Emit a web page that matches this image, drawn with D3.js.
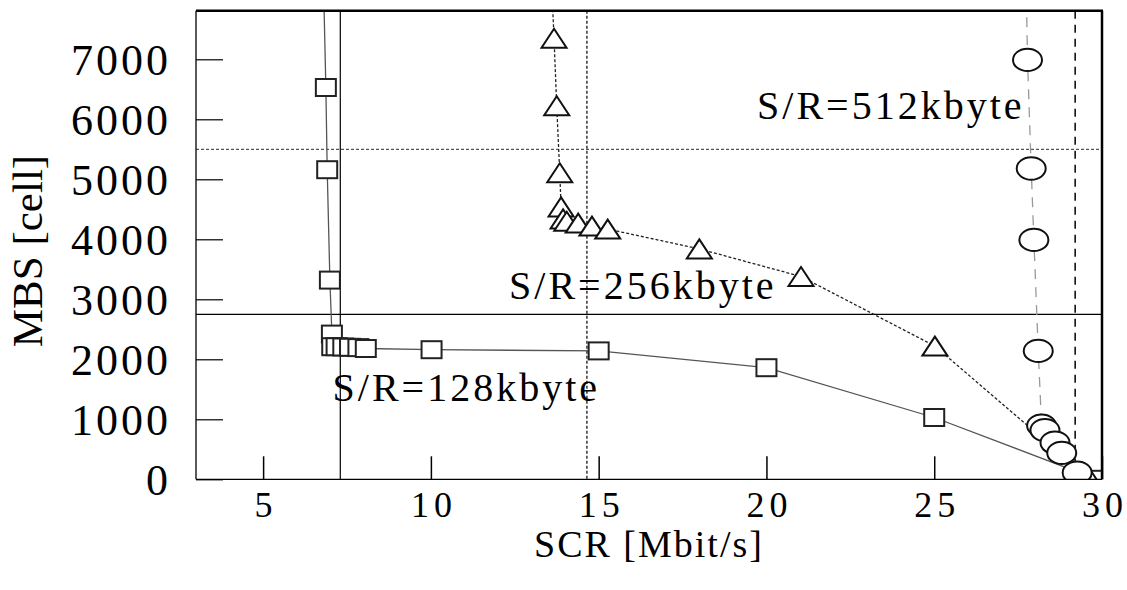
<!DOCTYPE html>
<html>
<head>
<meta charset="utf-8">
<script src="https://cdn.jsdelivr.net/npm/d3@7"></script>
<style>
  body { margin: 0; background: #fff; }
  text { font-family: "Liberation Serif", "Times New Roman", serif; fill: #000; }
</style>
</head>
<body>
<div class="chart"></div>
<script>
(function(){

  // S/R = 128 kbyte (squares)
  var sq128X = [6.73, 6.87, 6.91, 6.99, 7.05, 7.06, 7.19, 7.39, 7.59, 7.84, 8.06, 10.02, 15.0, 20.0, 25.0, 29.85];
  var sq128Y = [10000, 6530, 5160, 3320, 2420, 2210, 2210, 2205, 2200, 2195, 2180, 2160, 2140, 1860, 1030, 0];

  // S/R = 256 kbyte (triangles)
  var tri256X = [13.5, 13.67, 13.75, 13.84, 13.88, 13.94, 14.05, 14.39, 14.8, 15.27, 18.0, 21.03, 25.02, 29.65];
  var tri256Y = [9500, 7350, 6225, 5110, 4540, 4340, 4300, 4270, 4220, 4170, 3840, 3380, 2220, 0];

  // S/R = 512 kbyte (circles)
  var cir512X = [27.7, 27.78, 27.89, 27.97, 28.1, 28.2, 28.3, 28.6, 28.8, 29.26];
  var cir512Y = [9500, 6990, 5180, 3990, 2140, 895, 820, 610, 440, 110];

  var xTicks = [5, 10, 15, 20, 25, 30];
  var yTicks = [0, 1000, 2000, 3000, 4000, 5000, 6000, 7000];

  // reference lines
  var vLines = [7.3, 14.65, 29.2];
  var hLines = [2750, 5500];

  var labels = [
    {text: 'S/R=512kbyte', x: 19.72, y: 6013},
    {text: 'S/R=256kbyte', x: 12.33, y: 3000},
    {text: 'S/R=128kbyte', x: 7.07, y: 1310}
  ];

  var W = 1127, H = 590;
  var left = 196, right = 1102, top = 10.7, bottom = 479.3;

  var x = d3.scaleLinear().domain([3, 30]).range([left, right]);
  var y = d3.scaleLinear().domain([0, 7810]).range([bottom, top]);

  var svg = d3.select('.chart')
    .append('svg')
    .attr('width', W)
    .attr('height', H);

  svg.append('clipPath').attr('id', 'plot-clip')
    .append('rect')
    .attr('x', left).attr('y', top)
    .attr('width', right - left).attr('height', bottom - top);

  // axes
  var yAxis = d3.axisLeft(y).tickValues(yTicks).tickFormat(d3.format('d'))
    .tickSize(-27).tickPadding(28);
  var gy = svg.append('g')
    .attr('transform', 'translate(' + left + ',0)')
    .call(yAxis);
  gy.select('.domain').remove();
  gy.selectAll('.tick line').attr('stroke', '#000').attr('stroke-width', 1.2);
  gy.selectAll('.tick text')
    .attr('font-size', 44)
    .attr('letter-spacing', '3px')
    .attr('dx', 3)
    .attr('dy', '0.35em');

  var xAxis = d3.axisBottom(x).tickValues(xTicks).tickSize(-23).tickPadding(12);
  var gx = svg.append('g')
    .attr('transform', 'translate(0,' + bottom + ')')
    .call(xAxis);
  gx.select('.domain').remove();
  gx.selectAll('.tick line').attr('stroke', '#000').attr('stroke-width', 1.5);
  gx.selectAll('.tick text')
    .attr('font-size', 36)
    .attr('letter-spacing', '5px')
    .attr('dx', 2.5);

  // axis titles
  svg.append('text')
    .attr('x', (left + right) / 2)
    .attr('y', 557)
    .attr('text-anchor', 'middle')
    .attr('font-size', 38)
    .attr('letter-spacing', '2px')
    .text('SCR [Mbit/s]');

  svg.append('text')
    .attr('transform', 'translate(42,251) rotate(-90)')
    .attr('text-anchor', 'middle')
    .attr('font-size', 43)
    .text('MBS [cell]');

  var plot = svg.append('g').attr('clip-path', 'url(#plot-clip)');

  // reference lines
  var vStyle = [
    {dash: null, w: 1.2},
    {dash: '3,2', w: 1.2},
    {dash: '8,6', w: 1.5}
  ];
  plot.selectAll('.vline').data(vLines).enter().append('line')
    .attr('class', 'vline')
    .attr('x1', function(d){ return x(d); })
    .attr('x2', function(d){ return x(d); })
    .attr('y1', top).attr('y2', bottom)
    .attr('stroke', '#000')
    .attr('stroke-width', function(d, i){ return vStyle[i].w; })
    .attr('stroke-dasharray', function(d, i){ return vStyle[i].dash; });

  plot.selectAll('.hline').data(hLines).enter().append('line')
    .attr('class', 'hline')
    .attr('x1', left).attr('x2', right)
    .attr('y1', function(d){ return y(d); })
    .attr('y2', function(d){ return y(d); })
    .attr('stroke', function(d, i){ return i === 0 ? '#000' : '#555'; })
    .attr('stroke-width', 1.2)
    .attr('stroke-dasharray', function(d, i){ return i === 0 ? null : '3,2'; });

  var zip = function(xs, ys){
    return xs.map(function(v, i){ return [v, ys[i]]; });
  };
  var sq = zip(sq128X, sq128Y),
    tri = zip(tri256X, tri256Y),
    cir = zip(cir512X, cir512Y);

  var line = d3.line()
    .x(function(d){ return x(d[0]); })
    .y(function(d){ return y(d[1]); });

  plot.append('path').datum(sq)
    .attr('d', line)
    .attr('fill', 'none')
    .attr('stroke', '#555')
    .attr('stroke-width', 1.3);

  plot.append('path').datum(tri)
    .attr('d', line)
    .attr('fill', 'none')
    .attr('stroke', '#222')
    .attr('stroke-width', 1.3)
    .attr('stroke-dasharray', '3,2');

  plot.append('path').datum(cir)
    .attr('d', line)
    .attr('fill', 'none')
    .attr('stroke', '#999')
    .attr('stroke-width', 1.3)
    .attr('stroke-dasharray', '10,8');

  // annotations
  svg.selectAll('.note').data(labels).enter().append('text')
    .attr('class', 'note')
    .attr('x', function(d){ return x(d.x); })
    .attr('y', function(d){ return y(d.y); })
    .attr('font-size', 40)
    .attr('letter-spacing', '3px')
    .text(function(d){ return d.text; });

  // markers
  plot.selectAll('.sq').data(sq).enter().append('rect')
    .attr('class', 'sq')
    .attr('x', function(d){ return x(d[0]) - 10; })
    .attr('y', function(d){ return y(d[1]) - 8.5; })
    .attr('width', 20).attr('height', 17)
    .attr('fill', '#fff')
    .attr('stroke', '#222')
    .attr('stroke-width', 2);

  plot.selectAll('.tri').data(tri).enter().append('path')
    .attr('class', 'tri')
    .attr('d', 'M0,-9.5L12.5,9.5L-12.5,9.5Z')
    .attr('transform', function(d){ return 'translate(' + x(d[0]) + ',' + y(d[1]) + ')'; })
    .attr('fill', '#fff')
    .attr('stroke', '#111')
    .attr('stroke-width', 2);

  plot.selectAll('.cir').data(cir).enter().append('ellipse')
    .attr('class', 'cir')
    .attr('cx', function(d){ return x(d[0]); })
    .attr('cy', function(d){ return y(d[1]); })
    .attr('rx', 14.5).attr('ry', 11.2)
    .attr('fill', '#fff')
    .attr('stroke', '#111')
    .attr('stroke-width', 2);

  // frame: thin left/bottom, heavier top/right
  svg.append('line').attr('x1', left).attr('x2', left).attr('y1', top).attr('y2', bottom)
    .attr('stroke', '#000').attr('stroke-width', 1.3);
  svg.append('line').attr('x1', left).attr('x2', right).attr('y1', bottom).attr('y2', bottom)
    .attr('stroke', '#000').attr('stroke-width', 1.3);
  svg.append('line').attr('x1', left).attr('x2', right + 1).attr('y1', top).attr('y2', top)
    .attr('stroke', '#000').attr('stroke-width', 2.5);
  svg.append('line').attr('x1', right).attr('x2', right).attr('y1', top).attr('y2', bottom)
    .attr('stroke', '#000').attr('stroke-width', 2.5);

}());
</script>
</body>
</html>
